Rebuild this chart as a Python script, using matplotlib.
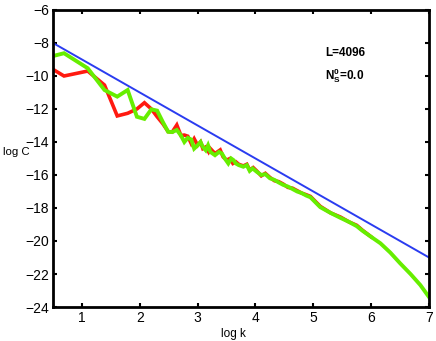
import numpy as np
import matplotlib
matplotlib.use('Agg')
import matplotlib.pyplot as plt

plt.rcParams['font.family'] = ['Liberation Sans', 'DejaVu Sans']
plt.rcParams['mathtext.fontset'] = 'custom'
plt.rcParams['mathtext.rm'] = 'Liberation Sans'
plt.rcParams['mathtext.bf'] = 'Liberation Sans:bold'

# green curve (log k, log C)
green_x = [0.50, 0.69, 1.10, 1.39, 1.61, 1.79, 1.95, 2.08, 2.20, 2.30, 2.40, 2.49, 2.56,
           2.64, 2.71, 2.77, 2.83, 2.89, 2.94, 3.00, 3.05, 3.09, 3.14, 3.18, 3.22, 3.30,
           3.37, 3.42, 3.47, 3.53, 3.58, 3.62, 3.66, 3.71, 3.79, 3.85, 3.90, 3.95, 4.02,
           4.10, 4.17, 4.25, 4.33, 4.40, 4.48, 4.56, 4.64, 4.72, 4.80, 4.88, 4.95, 5.12,
           5.30, 5.47, 5.62, 5.75, 5.85, 6.00, 6.16, 6.33, 6.50, 6.68, 6.85, 7.00]
green_y = [-8.79, -8.62, -9.53, -10.85, -11.25, -10.85, -12.47, -12.60, -12.02, -12.10,
           -12.80, -13.38, -13.40, -13.27, -13.60, -14.00, -13.75, -13.85, -14.40, -14.20,
           -14.00, -14.30, -14.50, -14.20, -14.60, -14.80, -14.60, -14.70, -15.00, -15.30,
           -15.00, -15.10, -15.30, -15.40, -15.50, -15.40, -15.75, -15.60, -15.80, -16.00,
           -15.95, -16.20, -16.30, -16.45, -16.60, -16.70, -16.85, -17.00, -17.10, -17.25,
           -17.35, -17.95, -18.30, -18.60, -18.85, -19.10, -19.38, -19.75, -20.14, -20.70,
           -21.35, -22.00, -22.67, -23.40]

# red curve
red_x = [0.50, 0.69, 1.10, 1.39, 1.61, 1.79, 1.95, 2.08, 2.20, 2.30, 2.40, 2.49, 2.56,
         2.64, 2.71, 2.77, 2.83, 2.89, 2.94, 3.00, 3.05, 3.09, 3.14, 3.19, 3.22, 3.30,
         3.39, 3.44, 3.50, 3.56, 3.61, 3.66, 3.71, 3.79, 3.85, 3.90, 3.96, 4.02, 4.10,
         4.17, 4.25, 4.33, 4.40, 4.48, 4.56, 4.64, 4.72, 4.80, 4.88, 4.95, 5.12, 5.30,
         5.47, 5.62, 5.75, 5.85, 6.00]
red_y = [-9.60, -10.00, -9.70, -10.55, -12.42, -12.26, -12.00, -11.62, -12.00, -12.47,
         -12.90, -13.37, -13.40, -12.97, -13.60, -13.58, -13.65, -14.10, -13.80, -14.20,
         -14.00, -14.40, -14.30, -14.60, -14.40, -14.70, -14.48, -14.90, -15.10, -15.00,
         -15.30, -15.20, -15.35, -15.45, -15.35, -15.70, -15.55, -15.75, -16.05, -15.90,
         -16.15, -16.35, -16.40, -16.55, -16.75, -16.80, -16.95, -17.10, -17.20, -17.30,
         -17.90, -18.30, -18.55, -18.85, -19.05, -19.35, -19.75]

# reference power law
blue_x = [0.5, 7.0]
blue_y = [-8.0, -21.0]

fig = plt.figure(figsize=(4.36, 3.41), dpi=100)
ax = fig.add_axes([0.1216, 0.0997, 0.8624, 0.871])

ax.plot(blue_x, blue_y, color='#2a3cf0', lw=1.4)
ax.plot(red_x, red_y, color='#ff1a10', lw=2.6, solid_joinstyle='miter')
ax.plot(green_x, green_y, color='#66ee00', lw=2.8, solid_joinstyle='miter')

ax.set_xlim(0.5, 7)
ax.set_ylim(-24, -6)
ax.set_xticks([1, 2, 3, 4, 5, 6, 7])
ax.set_yticks(np.arange(-24, -5, 2))
ax.set_yticklabels(['\u221224', '\u221222', '\u221220', '\u221218', '\u221216',
                    '\u221214', '\u221212', '\u221210', '\u22128', '\u22126'])
ax.tick_params(direction='in', length=3, width=1.5, top=True, right=True,
               labelsize=10, pad=3)
for s in ax.spines.values():
    s.set_linewidth(2.0)

ax.text(-0.132, 0.522, 'log C', transform=ax.transAxes, fontsize=8.2,
        ha='left', va='center')
ax.text(0.48, -0.09, 'log k', transform=ax.transAxes, fontsize=8.5,
        ha='center', va='center')

ax.text(5.2, -8.6, 'L=4096', fontsize=8.5, fontweight='bold', va='center')
ax.text(5.2, -9.95, r'$\mathbf{N}_\mathbf{S}^\mathbf{0}$=0.0', fontsize=8.5,
        fontweight='bold', va='center')

fig.savefig('out.png', dpi=100)
